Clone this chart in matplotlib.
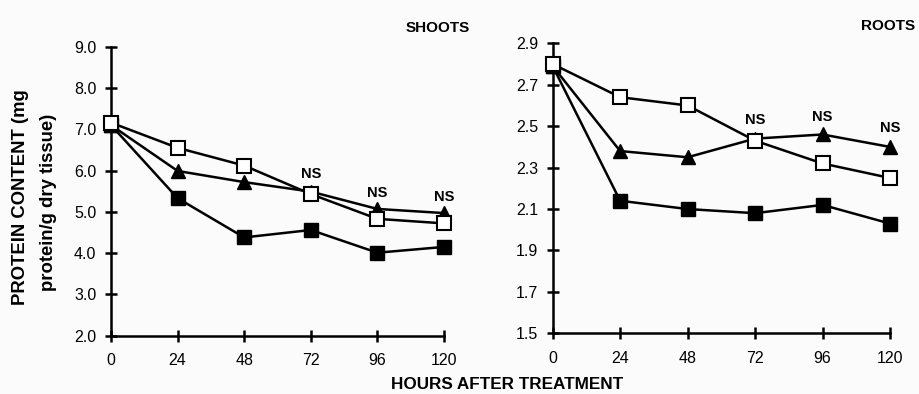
import numpy as np
import matplotlib
matplotlib.use('Agg')
import matplotlib.pyplot as plt

plt.rcParams['font.family'] = ['Liberation Sans', 'DejaVu Sans']

# Data
hours = [0, 24, 48, 72, 96, 120]

shoots_open = [7.16, 6.55, 6.12, 5.43, 4.83, 4.72]
shoots_tri = [7.10, 5.99, 5.72, 5.49, 5.07, 4.97]
shoots_fill = [7.10, 5.33, 4.38, 4.56, 4.01, 4.15]
shoots_ns_hours = [72, 96, 120]
shoots_ns_y = [5.91, 5.45, 5.37]

roots_open = [2.80, 2.64, 2.60, 2.43, 2.32, 2.25]
roots_tri = [2.79, 2.38, 2.35, 2.44, 2.46, 2.40]
roots_fill = [2.79, 2.14, 2.10, 2.08, 2.12, 2.03]
roots_ns_hours = [72, 96, 120]
roots_ns_y = [2.53, 2.545, 2.49]

shoots_yticks = [2.0, 3.0, 4.0, 5.0, 6.0, 7.0, 8.0, 9.0]
roots_yticks = [1.5, 1.7, 1.9, 2.1, 2.3, 2.5, 2.7, 2.9]

bg = '#fbfbfb'
fig = plt.figure(figsize=(9.19, 3.94), dpi=100, facecolor=bg)
ax1 = fig.add_axes([0.1208, 0.148, 0.3623, 0.7335])
ax2 = fig.add_axes([0.6014, 0.154, 0.3670, 0.736])


def style(ax, yticks, fmt):
    ax.set_facecolor(bg)
    for s in ['top', 'right']:
        ax.spines[s].set_visible(False)
    for s in ['left', 'bottom']:
        ax.spines[s].set_linewidth(1.8)
    ax.set_xlim(0, 120)
    ax.set_ylim(yticks[0], yticks[-1])
    ax.set_xticks(hours)
    ax.set_yticks(yticks)
    ax.set_yticklabels([fmt.format(v) for v in yticks])
    ax.tick_params(direction='inout', length=9, width=1.8, labelsize=11.5, pad=6)
    ax.tick_params(axis='x', pad=8)


def draw(ax, op, tri, fill, ns_x, ns_y):
    kw = dict(color='black', lw=1.8, clip_on=False, zorder=3)
    ax.plot(hours, fill, marker='s', markersize=9.5, markerfacecolor='black', **kw)
    ax.plot(hours, tri, marker='^', markersize=10.5, markerfacecolor='black', **kw)
    ax.plot(hours, op, marker='s', markersize=9.5, markerfacecolor='white',
            markeredgewidth=1.5, **kw)
    for x, y in zip(ns_x, ns_y):
        ax.text(x, y, 'NS', ha='center', va='center', fontsize=10.5, fontweight='bold')


style(ax1, shoots_yticks, '{:.1f}')
style(ax2, roots_yticks, '{:.1f}')
draw(ax1, shoots_open, shoots_tri, shoots_fill, shoots_ns_hours, shoots_ns_y)
draw(ax2, roots_open, roots_tri, roots_fill, roots_ns_hours, roots_ns_y)

fig.text(0.511, 0.930, 'SHOOTS', ha='right', va='center', fontsize=11, fontweight='bold')
fig.text(0.996, 0.935, 'ROOTS', ha='right', va='center', fontsize=11, fontweight='bold')
fig.text(0.552, 0.024, 'HOURS AFTER TREATMENT', ha='center', va='center', fontsize=12.3,
         fontweight='bold')
fig.text(0.022, 0.499, 'PROTEIN CONTENT (mg', rotation=90, ha='center', va='center',
         fontsize=13.3, fontweight='bold')
fig.text(0.053, 0.486, 'protein/g dry tissue)', rotation=90, ha='center', va='center',
         fontsize=13.3, fontweight='bold')

plt.savefig('out.png', dpi=100, facecolor=bg)
